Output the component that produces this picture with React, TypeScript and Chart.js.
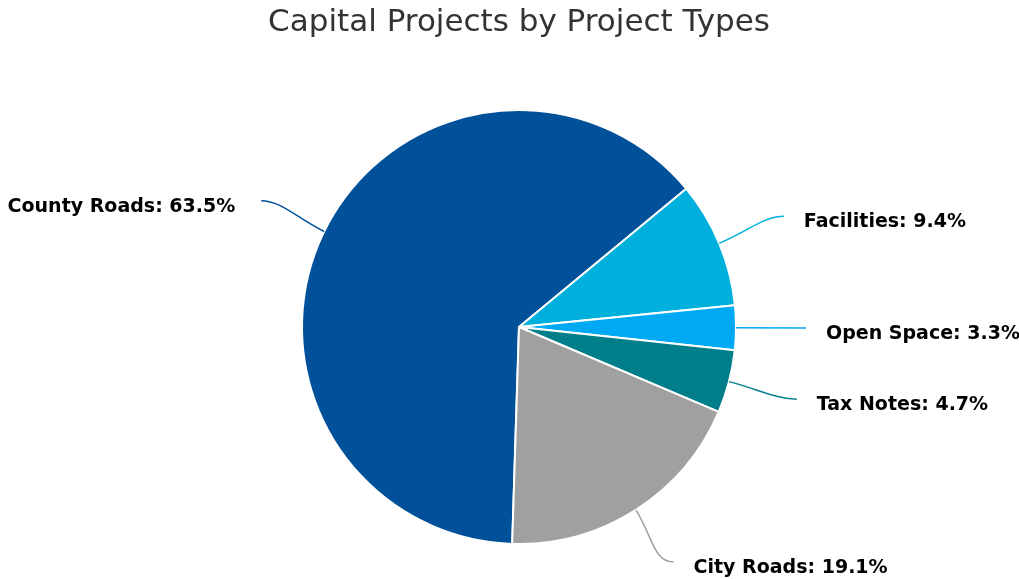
import React, { useEffect, useRef } from "react";
import { Chart, registerables } from "chart.js";

Chart.register(...registerables);

const TITLE = "Capital Projects by Project Types";
const categories = ["County Roads", "Facilities", "Open Space", "Tax Notes", "City Roads"];
const shares = [63.5, 9.4, 3.3, 4.7, 19.1];
const colors = ["#00509A", "#00B0DC", "#00A9F4", "#007F8A", "#A0A0A0"];

const W = 1019;
const H = 579;

const labelPlugin = {
  id: "pieLabels",
  afterDatasetsDraw(chart: any) {
    const ctx = chart.ctx;
    const meta = chart.getDatasetMeta(0);
    ctx.save();
    // title
    ctx.fillStyle = "#333333";
    ctx.font = "31px 'DejaVu Sans'";
    ctx.textAlign = "center";
    ctx.textBaseline = "middle";
    ctx.fillText(TITLE, 519, 23);

    meta.data.forEach((arc: any, i: number) => {
      const p = arc.getProps(["x", "y", "startAngle", "endAngle", "outerRadius"], true);
      const mid = (p.startAngle + p.endAngle) / 2;
      const cos = Math.cos(mid);
      const sin = Math.sin(mid);
      const r = p.outerRadius;
      const sx = p.x + r * cos;
      const sy = p.y + r * sin;
      let ex = p.x + (r + 70) * cos;
      let ey = p.y + (r + 70) * sin;
      if (ey > H - 17) ey = H - 17;
      const side = cos >= 0 ? 1 : -1;
      ctx.strokeStyle = colors[i];
      ctx.lineWidth = 1.5;
      ctx.beginPath();
      ctx.moveTo(sx, sy);
      ctx.bezierCurveTo(sx + cos * 30, sy + sin * 30, ex - side * 20, ey, ex, ey);
      ctx.stroke();

      ctx.fillStyle = "#000000";
      ctx.font = "bold 19px 'DejaVu Sans'";
      ctx.textBaseline = "middle";
      ctx.textAlign = side > 0 ? "left" : "right";
      const gap = side > 0 ? 20 : 26;
      ctx.fillText(`${categories[i]}: ${shares[i].toFixed(1)}%`, ex + side * gap, ey + 6);
    });
    ctx.restore();
  },
};

export default function App() {
  const ref = useRef<HTMLCanvasElement>(null);
  useEffect(() => {
    if (!ref.current) return;
    const chart = new Chart(ref.current, {
      type: "pie",
      data: {
        labels: categories,
        datasets: [
          {
            data: shares,
            backgroundColor: colors,
            borderColor: "#ffffff",
            borderWidth: 2,
            hoverOffset: 0,
          },
        ],
      },
      options: {
        animation: false,
        responsive: true,
        maintainAspectRatio: false,
        rotation: 181.8,
        radius: 217,
        layout: { padding: { top: 110, bottom: 35, left: 302, right: 283 } },
        plugins: {
          legend: { display: false },
          tooltip: { enabled: false },
          title: { display: false },
        },
        events: [],
      },
      plugins: [labelPlugin],
    });
    return () => chart.destroy();
  }, []);
  return (
    <div style={{ position: "absolute", left: 0, top: 0, width: W, height: H, background: "#fff" }}>
      <canvas ref={ref} />
    </div>
  );
}
